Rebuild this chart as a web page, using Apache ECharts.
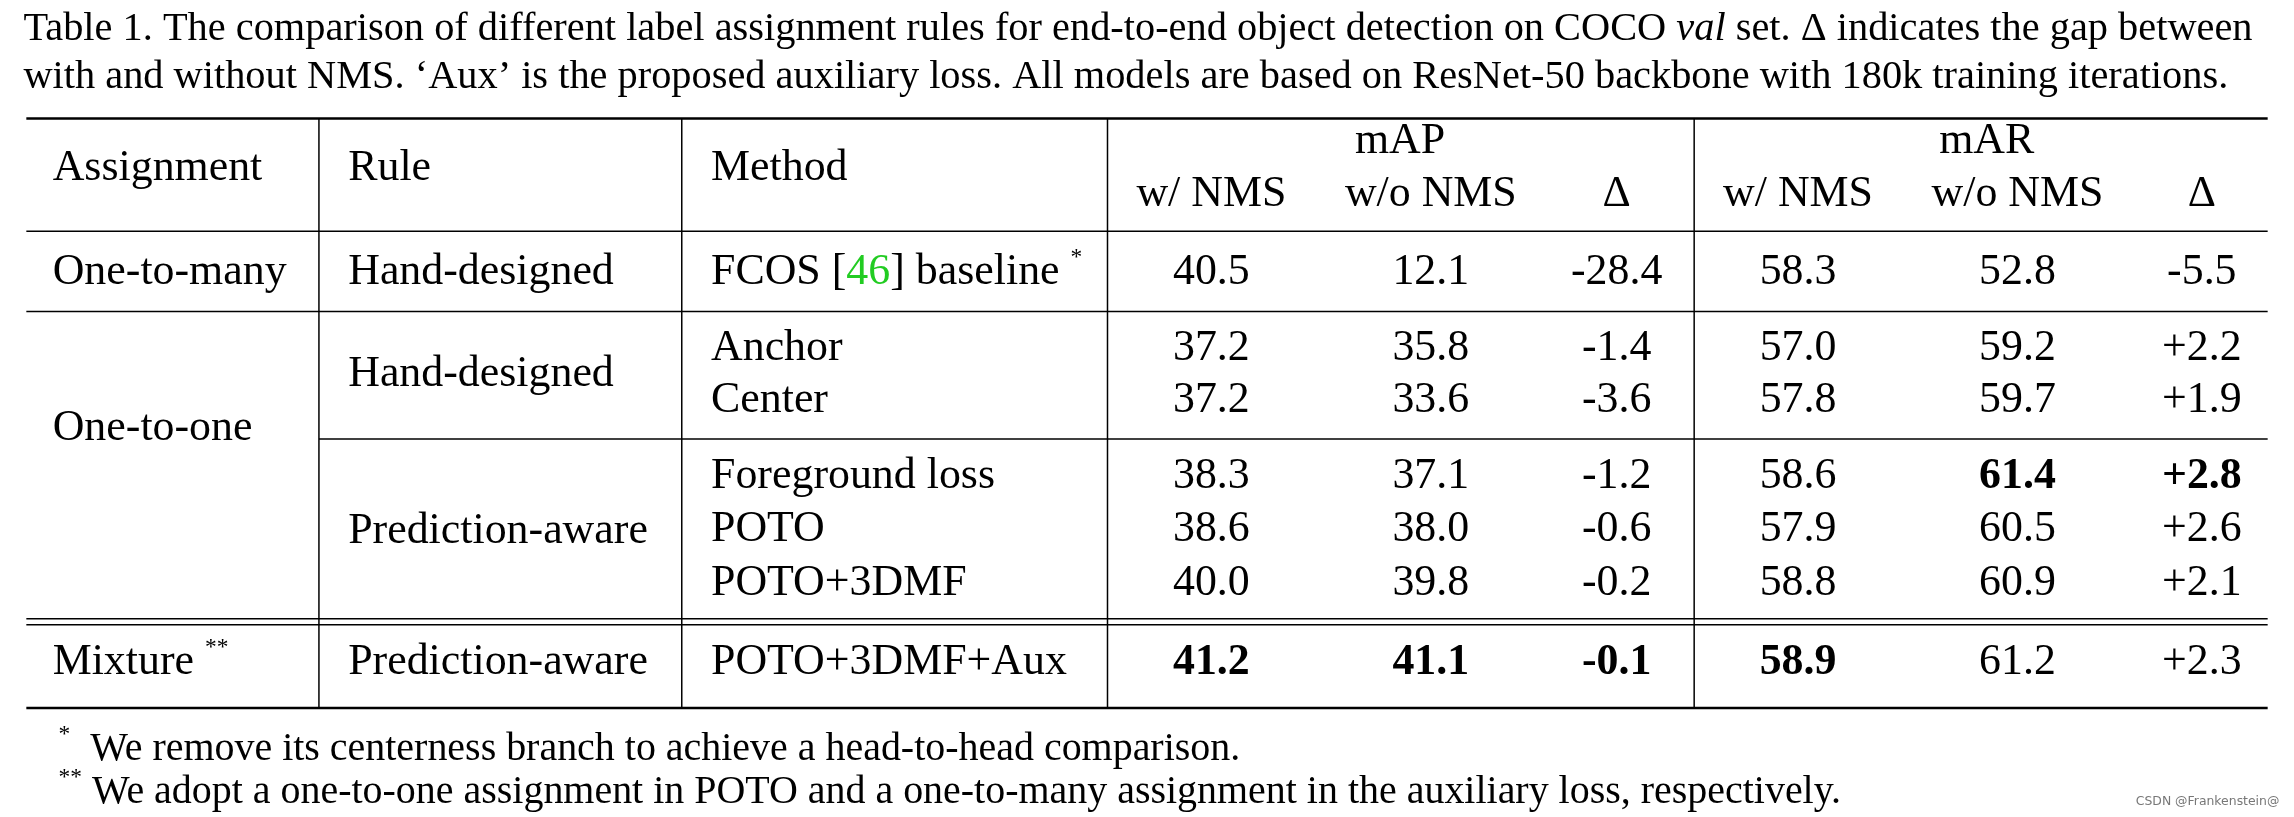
<!DOCTYPE html>
<html><head><meta charset="utf-8">
<script src="https://cdn.jsdelivr.net/npm/echarts@6/dist/echarts.min.js"></script>
<style>html,body{margin:0;background:#fff}#c{width:2294px;height:817px}</style>
</head><body><div id="c"></div>
<script>
const captionLines = [
  "Table 1. The comparison of different label assignment rules for end-to-end object detection on COCO {i|val} set. Δ indicates the gap between",
  "with and without NMS. ‘Aux’ is the proposed auxiliary loss. All models are based on ResNet-50 backbone with 180k training iterations."
];
const groupHeaders = ["mAP", "mAR"];
const subHeaders = ["w/ NMS", "w/o NMS", "Δ", "w/ NMS", "w/o NMS", "Δ"];
const assignments = ["One-to-many", "One-to-one", "Mixture {sup|**}"];
const rules = ["Hand-designed", "Hand-designed", "Prediction-aware", "Prediction-aware"];
const methods = ["FCOS [{g|46}] baseline {sup|*}", "Anchor", "Center", "Foreground loss", "POTO", "POTO+3DMF", "POTO+3DMF+Aux"];
const mapWith = ["40.5", "37.2", "37.2", "38.3", "38.6", "40.0", "41.2"];
const mapWithout = ["12.1", "35.8", "33.6", "37.1", "38.0", "39.8", "41.1"];
const mapDelta = ["-28.4", "-1.4", "-3.6", "-1.2", "-0.6", "-0.2", "-0.1"];
const marWith = ["58.3", "57.0", "57.8", "58.6", "57.9", "58.8", "58.9"];
const marWithout = ["52.8", "59.2", "59.7", "61.4", "60.5", "60.9", "61.2"];
const marDelta = ["-5.5", "+2.2", "+1.9", "+2.8", "+2.6", "+2.1", "+2.3"];
const boldCells = [[6,0],[6,1],[6,2],[6,3],[3,4],[3,5]];
const footnotes = ["{sup|*}  We remove its centerness branch to achieve a head-to-head comparison.",
  "{sup|**} We adopt a one-to-one assignment in POTO and a one-to-many assignment in the auxiliary loss, respectively."];

const S = 2294/1568;
const F = "Liberation Serif";
const fs = 30*S, cfs = 27.6*S, ffs = 27.3*S;
const rich = {
  i:{fontStyle:'italic',fontFamily:F,fontSize:cfs},
  g:{fill:'#22cc22',fontFamily:F,fontSize:fs},
  sup:{fontSize:16*S,fontFamily:F,verticalAlign:'top',padding:[0,0,20*S,0]}
};
const els = [];
function txt(s,x,y,align,opt={}){
  els.push({type:'text',style:Object.assign({text:s,x:x*S,y:y*S,align:align,verticalAlign:'middle',
    fontFamily:F,fontSize:fs,fill:'#000',rich:rich},opt)});
}
function line(x1,y1,x2,y2,w){
  els.push({type:'line',shape:{x1:x1*S,y1:y1*S,x2:x2*S,y2:y2*S},style:{stroke:'#000',lineWidth:w}});
}
txt(captionLines[0],16,20,'left',{fontSize:cfs});
txt(captionLines[1],16,53,'left',{fontSize:cfs});
line(18,81,1550,81,2.5);
line(18,158,1550,158,1.5);
line(18,213,1550,213,1.5);
line(218,300,1550,300,1.5);
line(18,423,1550,423,1.5);
line(18,427,1550,427,1.5);
line(18,484,1550,484,2.5);
[218,466,757,1158].forEach(x=>line(x,81,x,484,1.5));
txt("Assignment",36,115,'left'); txt("Rule",238,115,'left'); txt("Method",486,115,'left');
txt(groupHeaders[0],957,97,'center'); txt(groupHeaders[1],1358,97,'center');
const colX=[828,978,1105,1229,1379,1505];
subHeaders.forEach((h,i)=>txt(h,colX[i],133,'center'));
const rowY=[186,238,274,326,362,399,453];
const asgY=[186,293,453], ruleY=[186,256,363,453];
assignments.forEach((a,i)=>txt(a,36,asgY[i],'left'));
rules.forEach((r,i)=>txt(r,238,ruleY[i],'left'));
methods.forEach((m,i)=>txt(m,486,rowY[i],'left'));
const cols=[mapWith,mapWithout,mapDelta,marWith,marWithout,marDelta];
cols.forEach((c,ci)=>c.forEach((v,ri)=>{
  const b = boldCells.some(p=>p[0]===ri&&p[1]===ci);
  txt(v,colX[ci],rowY[ri],'center',{fontWeight:b?'bold':'normal'});
}));
footnotes.forEach((f,i)=>txt(f,40,[512,542][i],'left',{fontSize:ffs}));
txt("CSDN @Frankenstein@",1558,548,'right',{fontFamily:'DejaVu Sans',fontSize:8.5*S,fill:'#777'});
const chart = echarts.init(document.getElementById('c'));
chart.setOption({animation:false,graphic:{elements:els}});
</script></body></html>
